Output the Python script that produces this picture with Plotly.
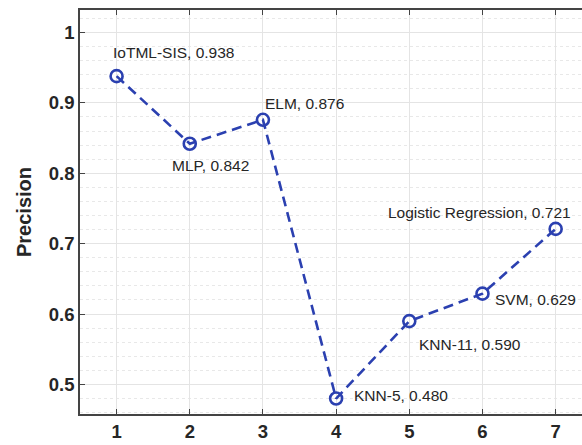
import plotly.graph_objects as go

x_vals = [1, 2, 3, 4, 5, 6, 7]
precision = [0.938, 0.842, 0.876, 0.480, 0.590, 0.629, 0.721]
labels = ["IoTML-SIS, 0.938", "MLP, 0.842", "ELM, 0.876", "KNN-5, 0.480",
          "KNN-11, 0.590", "SVM, 0.629", "Logistic Regression, 0.721"]
label_x = [0.93, 1.734, 3.004, 4.22, 5.108, 6.146, 4.684]
label_y = [0.972, 0.811, 0.899, 0.484, 0.557, 0.621, 0.745]

blue = "#2b40b0"
fig = go.Figure()
fig.add_trace(go.Scatter(
    x=x_vals, y=precision, mode="lines+markers",
    line=dict(color=blue, width=2.6, dash="10px,6px"),
    marker=dict(symbol="circle-open", size=12, color=blue, line=dict(width=2.6, color=blue)),
    showlegend=False, cliponaxis=False))

for lx, ly, t in zip(label_x, label_y, labels):
    fig.add_annotation(x=lx, y=ly, text=t, showarrow=False, xanchor="left", yanchor="middle",
                       font=dict(family="Liberation Sans, Arial", size=15.5, color="#262626"))

fig.update_layout(
    width=582, height=445, margin=dict(l=80, r=0, t=10, b=31),
    plot_bgcolor="white", paper_bgcolor="white",
    font=dict(family="Liberation Sans, Arial", color="#262626"),
)
fig.update_xaxes(range=[0.5, 7.36], tickvals=x_vals, ticktext=[str(v) for v in x_vals],
                 showgrid=True, gridcolor="#e4e4e4", gridwidth=1,
                 showline=True, linecolor="#444", linewidth=1.5, mirror="ticks",
                 ticks="inside", ticklen=5, tickcolor="#444", zeroline=False,
                 tickfont=dict(size=18.5, family="Liberation Sans, Arial", color="#262626", weight="bold"))
fig.update_yaxes(range=[0.458, 1.032], tickvals=[0.5, 0.6, 0.7, 0.8, 0.9, 1.0],
                 ticktext=["0.5", "0.6", "0.7", "0.8", "0.9", "1"],
                 showgrid=True, gridcolor="#e4e4e4", gridwidth=1,
                 minor=dict(dtick=0.02, tick0=0.5, showgrid=True, gridcolor="#e8e8e8", griddash="dot", gridwidth=1, ticks=""),
                 showline=True, linecolor="#444", linewidth=1.5, mirror=False,
                 ticks="inside", ticklen=5, tickcolor="#444", zeroline=False,
                 title=dict(text="<b>Precision</b>", font=dict(size=20), standoff=12),
                 tickfont=dict(size=18.5, family="Liberation Sans, Arial", color="#262626", weight="bold"))
fig.write_html("out.html")
